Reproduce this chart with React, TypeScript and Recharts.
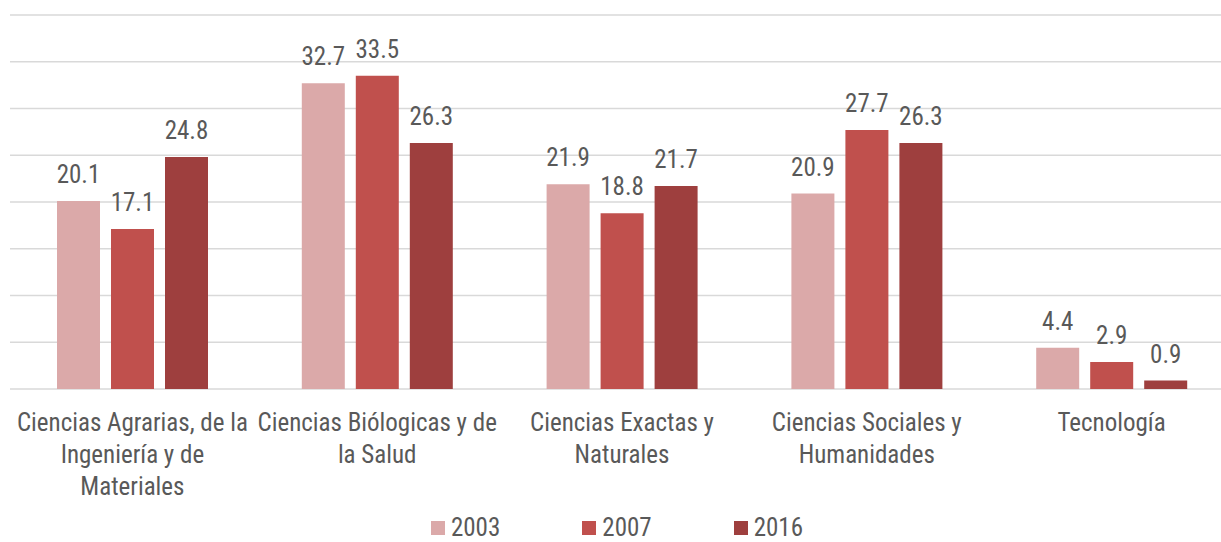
import { BarChart, Bar, XAxis, YAxis, CartesianGrid, Legend, LabelList } from "recharts";

const categories = [
  "Ciencias Agrarias, de la Ingeniería y de Materiales",
  "Ciencias Biólogicas y de la Salud",
  "Ciencias Exactas y Naturales",
  "Ciencias Sociales y Humanidades",
  "Tecnología",
];

// how each category label is broken into lines under the axis
const categoryLines = [
  ["Ciencias Agrarias, de la", "Ingeniería y de", "Materiales"],
  ["Ciencias Biólogicas y de", "la Salud"],
  ["Ciencias Exactas y", "Naturales"],
  ["Ciencias Sociales y", "Humanidades"],
  ["Tecnología"],
];

const values2003 = [20.1, 32.7, 21.9, 20.9, 4.4];
const values2007 = [17.1, 33.5, 18.8, 27.7, 2.9];
const values2016 = [24.8, 26.3, 21.7, 26.3, 0.9];

const yTicks = [0, 5, 10, 15, 20, 25, 30, 35, 40];

const series = [
  { key: "y2003", name: "2003", color: "#DBA9A9" },
  { key: "y2007", name: "2007", color: "#C0504D" },
  { key: "y2016", name: "2016", color: "#9E3F3E" },
];

const data = categories.map((c, i) => ({
  name: c,
  y2003: values2003[i],
  y2007: values2007[i],
  y2016: values2016[i],
}));

const FONT = "'Liberation Sans Narrow', 'Arial Narrow', 'Roboto Condensed', Roboto, sans-serif";
const TEXT = "#595959";
const FS = 25;

const CategoryTick = (props: any) => {
  const { x, y, index } = props;
  const lines = categoryLines[index] || [];
  return (
    <text x={x} y={y} textAnchor="middle" fill={TEXT} fontSize={FS} fontFamily={FONT}>
      {lines.map((l, i) => (
        <tspan key={i} x={x} dy={i === 0 ? 42 : 32}>
          {l}
        </tspan>
      ))}
    </text>
  );
};

const LegendBox = () => (
  <div
    style={{
      display: "flex",
      justifyContent: "center",
      gap: 82,
      fontFamily: FONT,
      fontSize: FS,
      lineHeight: "24px",
      color: TEXT,
      marginLeft: -10,
    }}
  >
    {series.map((s) => (
      <div key={s.key} style={{ display: "flex", alignItems: "center" }}>
        <span style={{ width: 14, height: 14, background: s.color, marginRight: 6, display: "inline-block" }} />
        <span>{s.name}</span>
      </div>
    ))}
  </div>
);

export default function App() {
  return (
    <div style={{ position: "fixed", top: 0, left: 0, width: 1221, height: 542, overflow: "hidden", background: "#fff" }}>
      <BarChart
        width={1240}
        height={542}
        data={data}
        margin={{ top: 15, right: 6, bottom: 0, left: 10 }}
        barSize={43}
        barGap={11}
      >
        <CartesianGrid vertical={false} stroke="#d9d9d9" strokeWidth={1.5} />
        <XAxis
          dataKey="name"
          axisLine={false}
          tickLine={false}
          tickSize={0}
          tickMargin={0}
          height={129}
          interval={0}
          tick={<CategoryTick />}
        />
        <YAxis hide domain={[0, 40]} ticks={yTicks} />
        <Legend
          verticalAlign="bottom"
          height={24}
          wrapperStyle={{ bottom: 2, overflow: "visible" }}
          content={<LegendBox />}
        />
        {series.map((s) => (
          <Bar key={s.key} dataKey={s.key} name={s.name} fill={s.color} isAnimationActive={false}>
            <LabelList
              dataKey={s.key}
              position="top"
              offset={18}
              fill={TEXT}
              fontSize={FS}
              fontFamily={FONT}
              formatter={(v: any) => Number(v).toFixed(1)}
            />
          </Bar>
        ))}
      </BarChart>
    </div>
  );
}
